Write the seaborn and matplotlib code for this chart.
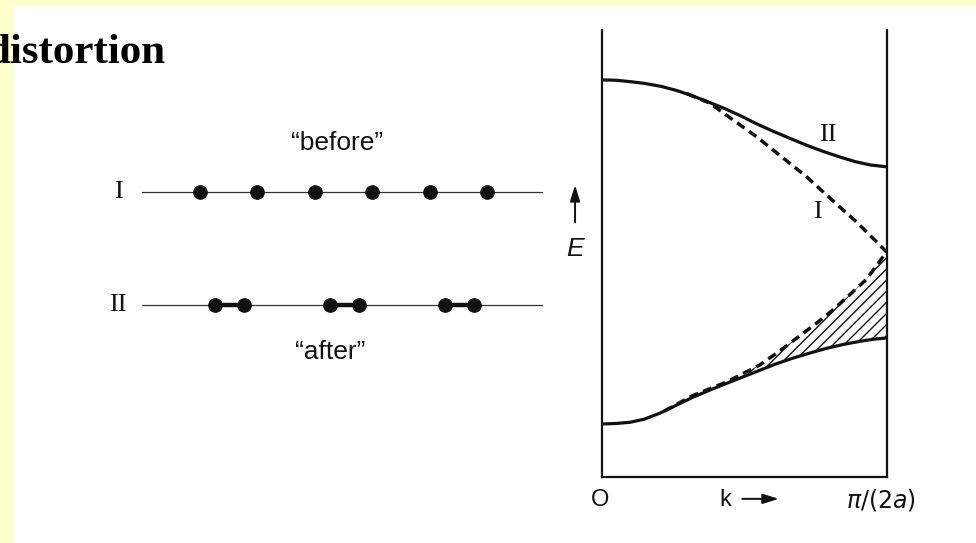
import numpy as np
import matplotlib
matplotlib.use("Agg")
import matplotlib.pyplot as plt
from matplotlib.patches import Rectangle
import seaborn as sns

# band picture, k in units of pi/(2a), E in units of the half band width
k_upper = [0, 0.05, 0.1, 0.15, 0.21, 0.26, 0.31, 0.37, 0.43, 0.49, 0.54, 0.60,
           0.66, 0.72, 0.78, 0.84, 0.89, 0.945, 1.0]
e_upper = [1.0, 0.998, 0.99, 0.98, 0.962, 0.94, 0.913, 0.875, 0.835, 0.79, 0.748, 0.703,
           0.661, 0.62, 0.583, 0.55, 0.525, 0.505, 0.495]
k_lower = [0, 0.05, 0.1, 0.15, 0.205, 0.26, 0.32, 0.38, 0.44, 0.50, 0.555, 0.61,
           0.67, 0.73, 0.79, 0.85, 0.905, 0.955, 1.0]
e_lower = [-1.0, -0.997, -0.99, -0.972, -0.937, -0.893, -0.845, -0.803, -0.763, -0.724, -0.688, -0.652,
           -0.618, -0.588, -0.56, -0.537, -0.52, -0.507, -0.5]
k_dash_up = [0.30, 0.38, 0.462, 0.544, 0.602, 0.66, 0.719, 0.777, 0.835, 0.894, 0.952, 1.0]
e_dash_up = [0.92, 0.865, 0.767, 0.67, 0.593, 0.516, 0.438, 0.35, 0.263, 0.176, 0.08, 0.0]
k_dash_lo = [0.22, 0.32, 0.44, 0.555, 0.614, 0.684, 0.754, 0.812, 0.87, 0.929, 0.965, 1.0]
e_dash_lo = [-0.925, -0.835, -0.755, -0.657, -0.589, -0.502, -0.415, -0.337, -0.25, -0.16, -0.08, 0.0]
hatch_from = 0.44

# atom chains, positions in lattice spacings
chain_before = [0, 1, 2, 3, 4, 5]
chain_after = [0.26, 0.76, 2.26, 2.76, 4.26, 4.76]
chain_extent = [-1.0, 5.95]
chain_rows = {"I": 1.0, "II": 0.0}

W, H = 976, 543
INK = "#111111"

sns.set_theme(style="white")
plt.rcParams["font.family"] = ["Liberation Sans", "DejaVu Sans"]
plt.rcParams["mathtext.fontset"] = "dejavusans"
plt.rcParams["hatch.linewidth"] = 1.0

fig = plt.figure(figsize=(W / 100, H / 100), dpi=100)
fig.patch.set_facecolor("#FFFFCC")
fig.add_artist(Rectangle((14 / W, 0), 1, (H - 7) / H, transform=fig.transFigure,
                         facecolor="white", edgecolor="none", zorder=0))

# the slide title is cut at the left edge in the original
fig.text(165 / W, 1 - 62.7 / H, "distortion", ha="right", va="baseline",
         fontsize=31, fontweight="bold", family=["Liberation Serif", "DejaVu Serif"],
         color="black")

# ---- left: chains ----
axc = fig.add_axes([100 / W, (H - 400) / H, 460 / W, 300 / H])
axc.set_facecolor("none")
axc.set_xlim(-1.7391, 6.2609)
axc.set_ylim(-0.8395, 1.82)
axc.axis("off")

for name, row in chain_rows.items():
    sns.lineplot(x=chain_extent, y=[row, row], color="#333333", lw=0.9, ax=axc,
                 estimator=None, sort=False)
    axc.text(-1.426, row, name, ha="center", va="center", fontsize=19,
             family=["Liberation Serif", "DejaVu Serif"], color=INK)

y_before = [chain_rows["I"]] * len(chain_before)
y_after = [chain_rows["II"]] * len(chain_after)
for i in range(0, len(chain_after), 2):
    sns.lineplot(x=chain_after[i:i + 2], y=y_after[i:i + 2], color=INK, lw=3.2,
                 ax=axc, estimator=None, sort=False)
sns.scatterplot(x=chain_before, y=y_before, s=95, color=INK, edgecolor=INK, ax=axc, zorder=5)
sns.scatterplot(x=chain_after, y=y_after, s=95, color=INK, edgecolor=INK, ax=axc, zorder=5)

axc.text(2.377, 1.439, "\u201cbefore\u201d", ha="center", va="center", fontsize=19, color=INK)
axc.text(2.26, -0.418, "\u201cafter\u201d", ha="center", va="center", fontsize=19, color=INK)

# ---- right: bands ----
ax = fig.add_axes([601.5 / W, (H - 477) / H, 285 / W, 447 / H])
ax.set_facecolor("none")
ax.set_xlim(0, 1)
ax.set_ylim(-1.308, 1.29)
ax.set_xticks([])
ax.set_yticks([])
ax.spines["top"].set_visible(False)
for side in ["left", "right", "bottom"]:
    ax.spines[side].set_color(INK)
    ax.spines[side].set_linewidth(1.6)

solid = dict(color=INK, lw=2.3, ax=ax, estimator=None, solid_joinstyle="round", solid_capstyle="round")
dashed = dict(color=INK, lw=2.5, ls=(0, (2.6, 1.6)), ax=ax, estimator=None)
sns.lineplot(x=k_upper, y=e_upper, **solid)
sns.lineplot(x=k_lower, y=e_lower, **solid)
sns.lineplot(x=k_dash_up, y=e_dash_up, **dashed)
sns.lineplot(x=k_dash_lo, y=e_dash_lo, **dashed)

kd, ed = np.array(k_dash_lo), np.array(e_dash_lo)
ks, es = np.array(k_lower), np.array(e_lower)
poly_k = np.concatenate([kd[kd >= hatch_from], ks[ks >= hatch_from][::-1]])
poly_e = np.concatenate([ed[kd >= hatch_from], es[ks >= hatch_from][::-1]])
ax.fill(poly_k, poly_e, facecolor="none", edgecolor=INK, hatch="///", linewidth=0)

ax.text(0.794, 0.68, "II", ha="center", va="center", fontsize=19,
        family=["Liberation Serif", "DejaVu Serif"], color=INK)
ax.text(0.759, 0.234, "I", ha="center", va="center", fontsize=19,
        family=["Liberation Serif", "DejaVu Serif"], color=INK)

ax.text(-0.005, -1.442, "O", ha="center", va="center", fontsize=17, color=INK, clip_on=False)
ax.text(0.433, -1.442, "k", ha="center", va="center", fontsize=17, color=INK, clip_on=False)
ax.annotate("", xy=(0.632, -1.435), xytext=(0.484, -1.435), annotation_clip=False,
            arrowprops=dict(arrowstyle="-|>,head_length=0.8,head_width=0.25", color=INK, lw=1.4))
ax.text(0.982, -1.442, r"$\pi/(2a)$", ha="center", va="center", fontsize=17, color=INK, clip_on=False)

ax.text(-0.093, 0.017, "E", ha="center", va="center", fontsize=19, style="italic", color=INK, clip_on=False)
ax.annotate("", xy=(-0.0928, 0.405), xytext=(-0.0928, 0.157), annotation_clip=False,
            arrowprops=dict(arrowstyle="-|>,head_length=0.8,head_width=0.25", color=INK, lw=1.4))

fig.savefig("out.png", dpi=100, facecolor=fig.get_facecolor())
